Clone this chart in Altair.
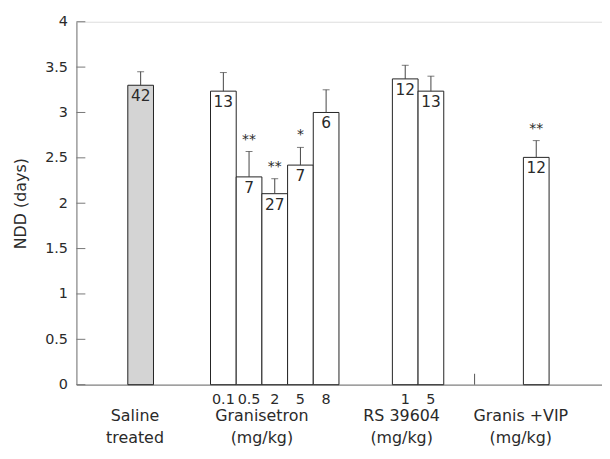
import altair as alt
import pandas as pd

# ---- data ----
groups = ["Saline", "Granisetron", "Granisetron", "Granisetron", "Granisetron",
          "Granisetron", "RS", "RS", "VIP"]
doses = ["", "0.1", "0.5", "2", "5", "8", "1", "5", ""]
means = [3.30, 3.235, 2.29, 2.105, 2.42, 3.00, 3.37, 3.235, 2.505]
sems = [0.15, 0.205, 0.28, 0.165, 0.195, 0.25, 0.15, 0.165, 0.185]
ns = [42, 13, 7, 27, 7, 6, 12, 13, 12]
sig = ["", "", "**", "**", "*", "", "", "", "**"]
kinds = ["saline", "drug", "drug", "drug", "drug", "drug", "drug", "drug", "drug"]

group_names = ["Saline", "Granisetron", "RS", "VIP"]
group_labels = [["Saline", "treated"], ["Granisetron", "(mg/kg)"],
                ["RS 39604", "(mg/kg)"], ["Granis +VIP", "(mg/kg)"]]
y_ticks = [0, 0.5, 1, 1.5, 2, 2.5, 3, 3.5, 4]

# ---- layout (in bar-width units) ----
W, H = 530, 366
X_MAX = 20.46
group_start = {"Saline": 2.0, "Granisetron": 5.22, "RS": 12.3, "VIP": 17.4}
label_center = {"Saline": 2.28, "Granisetron": 7.22, "RS": 12.66, "VIP": 17.3}
sep_tick = 15.5

rows = []
count = {}
for g, d, m, s, n, sg, k in zip(groups, doses, means, sems, ns, sig, kinds):
    i = count.get(g, 0)
    count[g] = i + 1
    x0 = group_start[g] + i
    rows.append(dict(group=g, dose=d, mean=m, top=m + s, n=str(n), sig=sg,
                     kind=k, x0=x0, x1=x0 + 1, xc=x0 + 0.5))
df = pd.DataFrame(rows)

glab = pd.DataFrame([dict(group=g, x=label_center[g], label=l)
                     for g, l in zip(group_names, group_labels)])
ticks_df = pd.DataFrame({"v": y_ticks})

FONT = "DejaVu Sans"
TXT = "#2a2a2a"
xs = alt.Scale(domain=[0, X_MAX], nice=False, zero=False)
ys = alt.Scale(domain=[0, 4], nice=False)

base = alt.Chart(df)

bars = base.mark_bar(stroke="#222222", strokeWidth=1).encode(
    x=alt.X("x0:Q", scale=xs,
            axis=alt.Axis(labels=False, ticks=False, grid=False, title=None,
                          domainColor="#888888", domainWidth=1.2)),
    x2="x1:Q",
    y=alt.Y("mean:Q", scale=ys,
            axis=alt.Axis(values=y_ticks, labelExpr="datum.value + ''",
                          ticks=False, grid=False, title="NDD (days)",
                          domainColor="#777777", labelFont=FONT, labelFontSize=14.5,
                          labelColor=TXT, labelPadding=9, titleFont=FONT,
                          titleFontSize=16, titleFontWeight="normal",
                          titleColor=TXT, titlePadding=16)),
    y2=alt.datum(0),
    fill=alt.Fill("kind:N", scale=alt.Scale(domain=["saline", "drug"],
                                            range=["#d4d4d4", "#ffffff"]),
                  legend=None),
)

err = base.mark_rule(color="#444444", strokeWidth=1).encode(
    x="xc:Q", y="mean:Q", y2="top:Q")
caps = base.mark_tick(orient="horizontal", size=7, thickness=1,
                      color="#444444").encode(x="xc:Q", y="top:Q")

nlab = base.mark_text(font=FONT, fontSize=15.5, color=TXT, baseline="top",
                      dy=4).encode(x="xc:Q", y="mean:Q", text="n:N")

stars = base.mark_text(font=FONT, fontSize=14, color=TXT, baseline="bottom",
                       dy=-5).encode(x="xc:Q", y="top:Q", text="sig:N")

doselab = base.mark_text(font=FONT, fontSize=14.5, color=TXT,
                         baseline="middle").encode(
    x="xc:Q", y=alt.value(H + 15), text="dose:N")

grouplab = alt.Chart(glab).mark_text(font=FONT, fontSize=16, color=TXT,
                                     baseline="top", lineHeight=22).encode(
    x=alt.X("x:Q", scale=xs), y=alt.value(H + 24), text="label")

yticks = alt.Chart(ticks_df).mark_rule(color="#777777", strokeWidth=1).encode(
    y=alt.Y("v:Q", scale=ys), x=alt.value(0), x2=alt.value(9))

sep = alt.Chart(pd.DataFrame({"x": [sep_tick]})).mark_rule(
    color="#555555", strokeWidth=1).encode(
    x=alt.X("x:Q", scale=xs), y=alt.value(H), y2=alt.value(H - 11))

chart = alt.layer(yticks, bars, err, caps, nlab, stars, doselab, grouplab, sep).properties(
    width=W, height=H,
    padding={"left": 4, "top": 4, "right": 0, "bottom": 0},
).configure_view(stroke=None).configure(background="white")

chart.save("out.html", embed_options={"renderer": "svg", "actions": False})
